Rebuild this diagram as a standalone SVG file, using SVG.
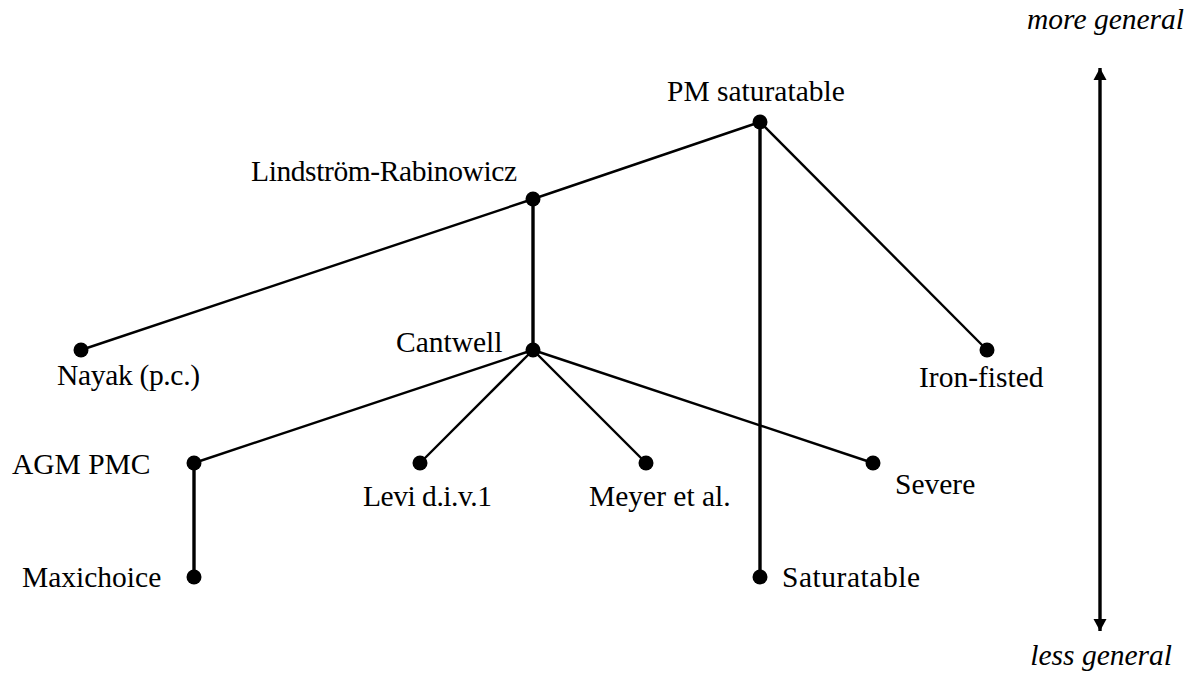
<svg xmlns="http://www.w3.org/2000/svg" width="1196" height="675" viewBox="0 0 1196 675">
<defs>
<style>
text{font-family:"Liberation Serif","Times New Roman",serif;font-size:29.5px;fill:#000}
.it{font-style:italic}
.e{stroke:#000;stroke-width:2.4;fill:none}
.v{stroke:#000;stroke-width:3.4;fill:none}
.n{fill:#000}
</style>
<marker id="ah" viewBox="0 0 12 18" refX="12" refY="9" markerWidth="12" markerHeight="18" markerUnits="userSpaceOnUse" orient="auto-start-reverse">
<path d="M0,2.5 L12,9 L0,15.5 Z" fill="#000"/>
</marker>
</defs>
<rect width="1196" height="675" fill="#fff"/>
<g id="connectors">
<line class="e" x1="760" y1="122" x2="533" y2="199"/>
<line class="e" x1="533" y1="199" x2="81" y2="350"/>
<line class="e" x1="760" y1="122" x2="987" y2="350"/>
<line class="v" x1="760" y1="122" x2="760" y2="577"/>
<line class="v" x1="533" y1="199" x2="533" y2="350"/>
<line class="e" x1="533" y1="350" x2="194" y2="463"/>
<line class="e" x1="533" y1="350" x2="420" y2="463"/>
<line class="e" x1="533" y1="350" x2="646" y2="463"/>
<line class="e" x1="533" y1="350" x2="873" y2="463"/>
<line class="v" x1="194" y1="463" x2="194" y2="577"/>
<line class="v" x1="1100" y1="68" x2="1100" y2="631" marker-start="url(#ah)" marker-end="url(#ah)"/>
</g>
<g id="pm-saturatable"><circle class="n" cx="760" cy="122" r="7.5"/><text x="667" y="101">PM saturatable</text></g>
<g id="lindstrom-rabinowicz"><circle class="n" cx="533" cy="199" r="7.5"/><text x="251" y="181" textLength="266">Lindström-Rabinowicz</text></g>
<g id="nayak"><circle class="n" cx="81" cy="350" r="7.5"/><text x="57" y="385" textLength="143">Nayak (p.c.)</text></g>
<g id="cantwell"><circle class="n" cx="533" cy="350" r="7.5"/><text x="396" y="352">Cantwell</text></g>
<g id="iron-fisted"><circle class="n" cx="987" cy="350" r="7.5"/><text x="919" y="387">Iron-fisted</text></g>
<g id="agm-pmc"><circle class="n" cx="194" cy="463" r="7.5"/><text x="12" y="474">AGM PMC</text></g>
<g id="levi"><circle class="n" cx="420" cy="463" r="7.5"/><text x="363" y="506" textLength="129">Levi d.i.v.1</text></g>
<g id="meyer"><circle class="n" cx="646" cy="463" r="7.5"/><text x="589" y="506">Meyer et al.</text></g>
<g id="severe"><circle class="n" cx="873" cy="463" r="7.5"/><text x="895" y="494">Severe</text></g>
<g id="maxichoice"><circle class="n" cx="194" cy="577" r="7.5"/><text x="22" y="587">Maxichoice</text></g>
<g id="saturatable"><circle class="n" cx="760" cy="577" r="7.5"/><text x="782" y="587" textLength="138">Saturatable</text></g>
<g id="axis-labels">
<text class="it" x="1184" y="29" text-anchor="end">more general</text>
<text class="it" x="1172" y="665" text-anchor="end">less general</text>
</g>
</svg>
